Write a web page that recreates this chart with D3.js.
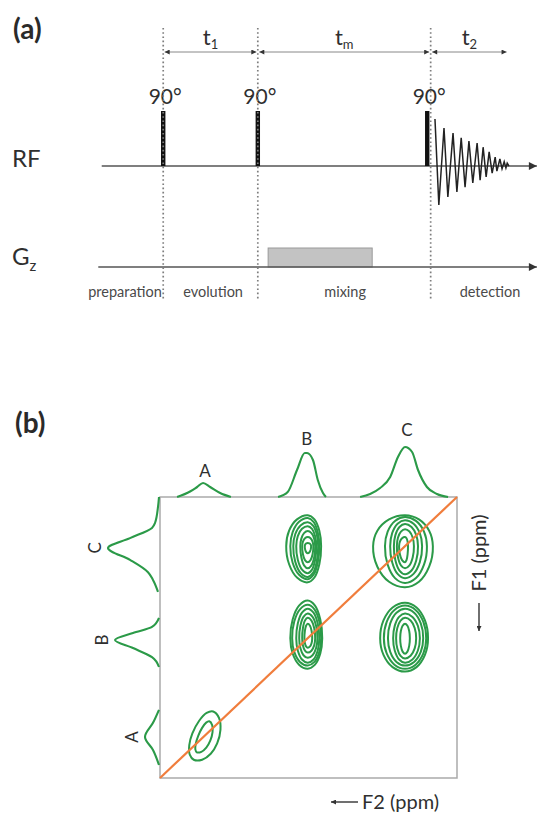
<!DOCTYPE html>
<html>
<head>
<meta charset="utf-8">
<script src="https://cdnjs.cloudflare.com/ajax/libs/d3/7.8.5/d3.min.js"></script>
<style>
body { margin: 0; background: #fff; }
text { font-family: Lato, "Open Sans", sans-serif; fill: #2f2f2f; }
</style>
</head>
<body>
<script>
// ---- (a) pulse sequence, times in arbitrary units (0..100 along the axis)
var periodBounds = [14.7, 36.7, 76.9];
var pulseTimes = [14.7, 36.7, 76.1];
var pulseLabels = ["90°", "90°", "90°"];
var pulseLevel = 1.17;
var delaySubs = ["1", "m", "2"];
var delayFrom = [14.7, 36.7, 76.9];
var delayTo = [36.7, 76.9, 94.9];
var phaseNames = ["preparation", "evolution", "mixing", "detection"];
var phaseAt = [5.8, 26.3, 57.0, 90.7];
var gradFrom = 39.1, gradTo = 63.3, gradLevel = 1;
var fidT = [77.9, 78.8, 80.0, 80.9, 82.1, 83.0, 84.0, 84.9, 85.8, 86.7, 87.7, 88.4,
            89.1, 89.8, 90.5, 91.2, 91.9, 92.3, 93.0, 93.5, 94.0, 94.4, 94.7, 95.1];
var fidAmp = [1.0, -0.83, 0.81, -0.66, 0.70, -0.55, 0.60, -0.45, 0.53, -0.36, 0.49, -0.30,
              0.40, -0.23, 0.30, -0.15, 0.19, -0.11, 0.15, -0.06, 0.09, -0.04, 0.06, 0];

// ---- (b) NOESY spectrum, ppm
var peakNames = ["A", "B", "C"];
var f2TraceA = [[8.54,0],[8.19,0.11],[8.0,0.2],[7.84,0.28],[7.65,0.2],[7.38,0.08],[7.09,0]];
var f2TraceB = [[5.82,0],[5.56,0.1],[5.31,0.54],[5.10,0.88],[5.04,0.88],[4.88,0.74],[4.75,0.34],[4.61,0.08],[4.53,0]];
var f2TraceC = [[3.61,0],[3.34,0.06],[3.07,0.18],[2.80,0.40],[2.59,0.80],[2.40,1.0],[2.21,0.90],[2.05,0.54],[1.81,0.20],[1.54,0.06],[1.24,0]];
var f1TraceA = [[7.06,0],[7.43,0.12],[7.83,0.28],[8.20,0.12],[8.63,0]];
var f1TraceB = [[4.44,0],[4.70,0.14],[4.87,0.52],[5.07,0.88],[5.30,0.52],[5.56,0.14],[5.84,0]];
var f1TraceC = [[1.0,0],[1.28,0.02],[1.74,0.08],[1.88,0.14],[2.17,0.58],[2.45,1.02],[2.79,0.58],[3.14,0.22],[3.36,0.12],[3.70,0.02]];
var topLabelGap = [6, 8, 11];

var peakPpm = {A: 7.85, B: 5.02, C: 2.40};
// contour rings: half extents [left, right, up, down] in ppm
var ringsBC = [[0.58,0.36,0.88,1.03],[0.47,0.31,0.80,0.94],[0.39,0.28,0.68,0.88],[0.31,0.23,0.57,0.77],[0.20,0.20,0.43,0.63],[0.15,0.15,0.26,0.46],[0.08,0.09,0.09,0.2]];
var ringsCC = [[0.86,0.75,0.88,1.17],[0.54,0.59,0.83,1.05],[0.40,0.46,0.74,0.91],[0.30,0.35,0.63,0.80],[0.22,0.24,0.48,0.63],[0.16,0.08,0.26,0.46]];
var ringsBB = [[0.47,0.39,1.07,0.87],[0.42,0.36,0.95,0.78],[0.31,0.31,0.84,0.70],[0.23,0.26,0.70,0.56],[0.15,0.20,0.58,0.41],[0.09,0.12,0.41,0.27]];
var ringsCB = [[0.67,0.62,1.01,0.95],[0.57,0.57,0.93,0.87],[0.46,0.49,0.84,0.78],[0.32,0.40,0.70,0.70],[0.24,0.30,0.58,0.58],[0.13,0.13,0.41,0.44]];
var ringsAA = [[0.30,0.42,0.80,0.68],[0.13,0.22,0.50,0.45]];
var crossF2 = ["B", "C", "B", "C", "A"];
var crossF1 = ["C", "C", "B", "B", "A"];
var crossRings = [ringsBC, ringsCC, ringsBB, ringsCB, ringsAA];
var crossTilt = [0, 0, 0, 0, 22];

var green = "#2b9a48", orange = "#f07d3c";

var svg = d3.select("body").append("svg")
    .attr("width", 539)
    .attr("height", 815);

var defs = svg.append("defs");
defs.append("marker")
    .attr("id", "axisHead")
    .attr("viewBox", "0 0 10 10")
    .attr("refX", 10).attr("refY", 5)
    .attr("markerWidth", 9).attr("markerHeight", 8)
    .attr("markerUnits", "userSpaceOnUse")
    .attr("orient", "auto")
  .append("path").attr("d", "M0,0L10,5L0,10z").attr("fill", "#333");
defs.append("marker")
    .attr("id", "dimHead")
    .attr("viewBox", "0 0 10 10")
    .attr("refX", 10).attr("refY", 5)
    .attr("markerWidth", 6).attr("markerHeight", 5)
    .attr("markerUnits", "userSpaceOnUse")
    .attr("orient", "auto-start-reverse")
  .append("path").attr("d", "M0,0L10,5L0,10z").attr("fill", "#333");

// ================= (a)
var tX = d3.scaleLinear().domain([0, 100]).range([100, 530]);
var rfY = d3.scaleLinear().domain([0, 1]).range([166, 119]);
var gzY = d3.scaleLinear().domain([0, 1]).range([267, 248]);

var a = svg.append("g");

a.append("text").attr("x", 13).attr("y", 39)
    .style("font-size", "28px").style("font-weight", "bold").style("fill", "#2a2a2a")
    .text("(a)");

a.append("text").attr("x", 12).attr("y", 167).style("font-size", "24px").text("RF");
var gz = a.append("text").attr("x", 12).attr("y", 265).style("font-size", "24px").text("G");
gz.append("tspan").attr("dy", 6).style("font-size", "15px").text("z");

// gradient block
a.append("rect")
    .attr("x", tX(gradFrom))
    .attr("y", gzY(gradLevel))
    .attr("width", tX(gradTo) - tX(gradFrom))
    .attr("height", gzY(0) - gzY(gradLevel))
    .attr("fill", "#c3c3c3")
    .attr("stroke", "#9a9a9a");

// baselines
a.append("line")
    .attr("x1", tX(0.4)).attr("x2", tX(101.6))
    .attr("y1", rfY(0)).attr("y2", rfY(0))
    .attr("stroke", "#555").attr("stroke-width", 1.5)
    .attr("marker-end", "url(#axisHead)");
a.append("line")
    .attr("x1", tX(-0.4)).attr("x2", tX(101.6))
    .attr("y1", gzY(0)).attr("y2", gzY(0))
    .attr("stroke", "#555").attr("stroke-width", 1.5)
    .attr("marker-end", "url(#axisHead)");

// pulses
a.selectAll(".pulse").data(pulseTimes).enter().append("rect")
    .attr("class", "pulse")
    .attr("x", function(d) { return tX(d) - 2.2; })
    .attr("y", rfY(pulseLevel))
    .attr("width", 4.4)
    .attr("height", rfY(0) - rfY(pulseLevel))
    .attr("fill", "#111");

a.selectAll(".plabel").data(pulseLabels).enter().append("text")
    .attr("class", "plabel")
    .attr("x", function(d, i) { return tX(pulseTimes[i]) + 2; })
    .attr("y", 104)
    .attr("text-anchor", "middle")
    .style("font-size", "21px")
    .text(function(d) { return d; });

// FID
var fidLine = d3.line()
    .x(function(d, i) { return tX(fidT[i]); })
    .y(function(d) { return rfY(d); });
a.append("path")
    .attr("d", fidLine(fidAmp))
    .attr("fill", "none")
    .attr("stroke", "#222")
    .attr("stroke-width", 1.5);

// dotted period boundaries
a.selectAll(".bound").data(periodBounds).enter().append("line")
    .attr("class", "bound")
    .attr("x1", function(d) { return tX(d); })
    .attr("x2", function(d) { return tX(d); })
    .attr("y1", 28).attr("y2", 301)
    .attr("stroke", "#7e7e7e")
    .attr("stroke-width", 1.7)
    .attr("stroke-dasharray", "1.6,2.6");

// delay arrows
a.selectAll(".delay").data(delaySubs).enter().append("line")
    .attr("class", "delay")
    .attr("x1", function(d, i) { return tX(delayFrom[i]) + 1.5; })
    .attr("x2", function(d, i) { return tX(delayTo[i]) - 1.5; })
    .attr("y1", 52).attr("y2", 52)
    .attr("stroke", "#888").attr("stroke-width", 1)
    .attr("marker-start", "url(#dimHead)")
    .attr("marker-end", "url(#dimHead)");

var dl = a.selectAll(".dlabel").data(delaySubs).enter().append("text")
    .attr("class", "dlabel")
    .attr("x", function(d, i) { return tX((delayFrom[i] + delayTo[i]) / 2); })
    .attr("y", 45)
    .attr("text-anchor", "middle")
    .style("font-size", "22px")
    .text("t");
dl.append("tspan").attr("dy", 4).style("font-size", "13px").text(function(d) { return d; });

a.selectAll(".phase").data(phaseNames).enter().append("text")
    .attr("class", "phase")
    .attr("x", function(d, i) { return tX(phaseAt[i]); })
    .attr("y", 297)
    .attr("text-anchor", "middle")
    .style("font-size", "14.5px")
    .style("fill", "#4a4a4a")
    .text(function(d) { return d; });

// ================= (b)
var f2X = d3.scaleLinear().domain([9, 1]).range([160, 457]);
var f1Y = d3.scaleLinear().domain([1, 9]).range([497, 778]);
var topI = d3.scaleLinear().domain([0, 1]).range([497, 447]);
var leftI = d3.scaleLinear().domain([0, 1]).range([159, 109]);

var b = svg.append("g");

b.append("text").attr("x", 15).attr("y", 433)
    .style("font-size", "28px").style("font-weight", "bold").style("fill", "#2a2a2a")
    .text("(b)");

b.append("rect")
    .attr("x", f2X(9)).attr("y", f1Y(1))
    .attr("width", f2X(1) - f2X(9))
    .attr("height", f1Y(9) - f1Y(1))
    .attr("fill", "none")
    .attr("stroke", "#aaa")
    .attr("stroke-width", 1.5);

// 1D projections
var topLine = d3.line()
    .x(function(d) { return f2X(d[0]); })
    .y(function(d) { return topI(d[1]); })
    .curve(d3.curveMonotoneX);
var leftLine = d3.line()
    .x(function(d) { return leftI(d[1]); })
    .y(function(d) { return f1Y(d[0]); })
    .curve(d3.curveMonotoneY);

var topTraces = [f2TraceA, f2TraceB, f2TraceC];
var leftTraces = [f1TraceA, f1TraceB, f1TraceC];

b.selectAll(".top").data(topTraces).enter().append("path")
    .attr("class", "top")
    .attr("d", topLine)
    .attr("fill", "none").attr("stroke", green).attr("stroke-width", 2.1);
b.selectAll(".left").data(leftTraces).enter().append("path")
    .attr("class", "left")
    .attr("d", leftLine)
    .attr("fill", "none").attr("stroke", green).attr("stroke-width", 2.1);

b.selectAll(".tlabel").data(peakNames).enter().append("text")
    .attr("class", "tlabel")
    .attr("x", function(d, i) { return f2X(d3.greatest(topTraces[i], function(p) { return p[1]; })[0]) + 2; })
    .attr("y", function(d, i) { return topI(d3.max(topTraces[i], function(p) { return p[1]; })) - topLabelGap[i]; })
    .attr("text-anchor", "middle")
    .style("font-size", "17px")
    .text(function(d) { return d; });

b.selectAll(".llabel").data(peakNames).enter().append("text")
    .attr("class", "llabel")
    .attr("transform", function(d, i) {
        var pk = d3.greatest(leftTraces[i], function(p) { return p[1]; });
        return "translate(" + (leftI(pk[1]) - 7) + "," + f1Y(pk[0]) + ") rotate(-90)";
    })
    .attr("text-anchor", "middle")
    .style("font-size", "17px")
    .text(function(d) { return d; });

// contours
var ringLine = d3.line().curve(d3.curveCatmullRomClosed);
var angles = d3.range(0, 360, 30);
function ringPath(f2, f1, r) {
    var cx = f2X(f2), cy = f1Y(f1);
    var L = cx - f2X(f2 + r[0]), R = f2X(f2 - r[1]) - cx;
    var T = cy - f1Y(f1 - r[2]), B = f1Y(f1 + r[3]) - cy;
    return ringLine(angles.map(function(deg) {
        var c = Math.cos(deg * Math.PI / 180), s = Math.sin(deg * Math.PI / 180);
        return [cx + (c >= 0 ? R : L) * c, cy + (s >= 0 ? B : T) * s];
    }));
}

crossRings.forEach(function(rings, k) {
    var f2 = peakPpm[crossF2[k]], f1 = peakPpm[crossF1[k]];
    var g = b.append("g")
        .attr("transform", "rotate(" + crossTilt[k] + "," + f2X(f2) + "," + f1Y(f1) + ")");
    g.selectAll("path").data(rings).enter().append("path")
        .attr("d", function(r) { return ringPath(f2, f1, r); })
        .attr("fill", "none")
        .attr("stroke", green)
        .attr("stroke-width", 2);
});

// diagonal
b.append("line")
    .attr("x1", f2X(9)).attr("y1", f1Y(9))
    .attr("x2", f2X(1)).attr("y2", f1Y(1))
    .attr("stroke", orange).attr("stroke-width", 2.2);

// axis titles
b.append("line")
    .attr("x1", 358).attr("x2", 331).attr("y1", 802).attr("y2", 802)
    .attr("stroke", "#333").attr("stroke-width", 1.4)
    .attr("marker-end", "url(#dimHead)");
b.append("text").attr("x", 362).attr("y", 809)
    .style("font-size", "20px").text("F2 (ppm)");

b.append("line")
    .attr("x1", 479).attr("x2", 479).attr("y1", 603).attr("y2", 631)
    .attr("stroke", "#333").attr("stroke-width", 1.4)
    .attr("marker-end", "url(#dimHead)");
b.append("text")
    .attr("transform", "translate(486,553) rotate(-90)")
    .attr("text-anchor", "middle")
    .style("font-size", "20px")
    .text("F1 (ppm)");
</script>
</body>
</html>
